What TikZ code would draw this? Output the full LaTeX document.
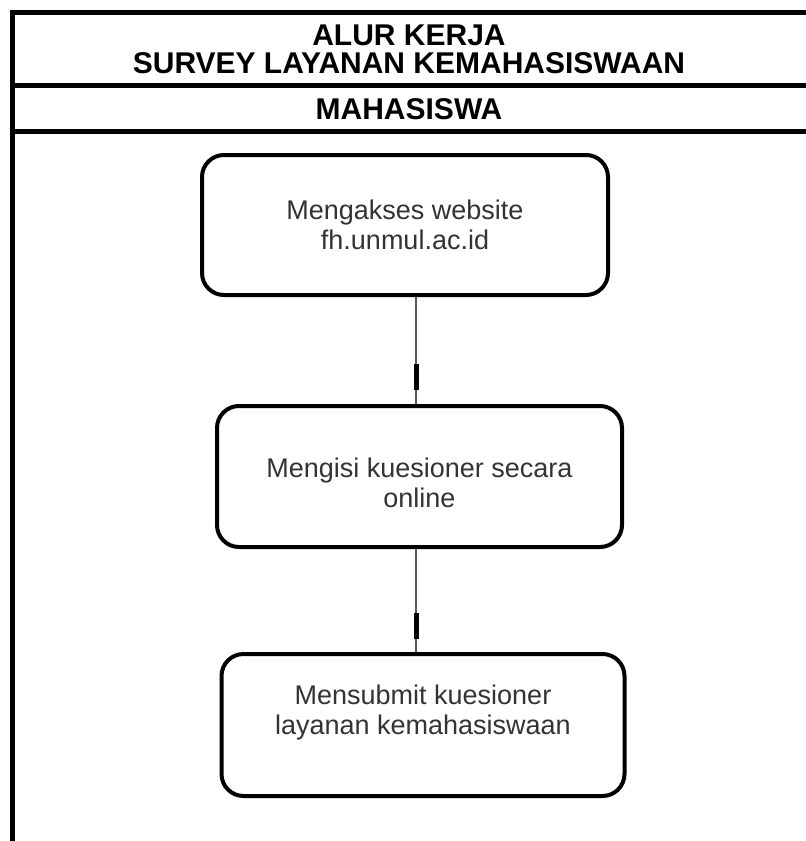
\documentclass[tikz,border=0pt]{standalone}
\usepackage{fontspec}
\setmainfont{Liberation Sans}
\usetikzlibrary{arrows.meta,decorations.markings}

\begin{document}
\begin{tikzpicture}[x=1pt, y=-1pt]
	\tikzset{
		frame/.style={line width=5pt, draw=black},
		header/.style={font=\fontsize{30}{28}\selectfont\bfseries, text=black, align=center},
		activity/.style={rectangle, rounded corners=22pt, line width=4pt, draw=black, fill=white, text=black!80, align=center, font=\fontsize{27}{30}\selectfont},
		flow/.style={draw=black!65, line width=2.5pt, postaction={decorate}, decoration={markings, mark=at position 0.87 with {\arrow{Rectangle[length=26pt, width=5pt, black]}}}},
	}
	\useasboundingbox (0,0) rectangle (806,841);
	%Draw swimlane frame
	\draw[frame] (12.5,841) -- (12.5,12) -- (806,12);
	\draw[frame] (12.5,85) -- (806,85);
	\draw[frame] (12.5,131) -- (806,131);
	\node[header](title) at (409,49.5) {ALUR KERJA\\SURVEY LAYANAN KEMAHASISWAAN};
	\node[header](actor) at (409,109) {MAHASISWA};
	%Draw activities
	\node[activity, minimum width=406pt, minimum height=140pt](akses) at (405,225) {Mengakses website\\fh.unmul.ac.id};
	\node[activity, minimum width=405pt, minimum height=141pt, text height=62pt](isi) at (419.5,476.5) {Mengisi kuesioner secara\\online};
	\node[activity, minimum width=403pt, minimum height=142pt, text depth=30pt](submit) at (423,725) {Mensubmit kuesioner\\layanan kemahasiswaan};
	%Draw arrows
	\draw[flow] ([xshift=11pt]akses.south) -- ([xshift=-3.5pt]isi.north);
	\draw[flow] ([xshift=-3.5pt]isi.south) -- ([xshift=-7pt]submit.north);
\end{tikzpicture}
\end{document}
